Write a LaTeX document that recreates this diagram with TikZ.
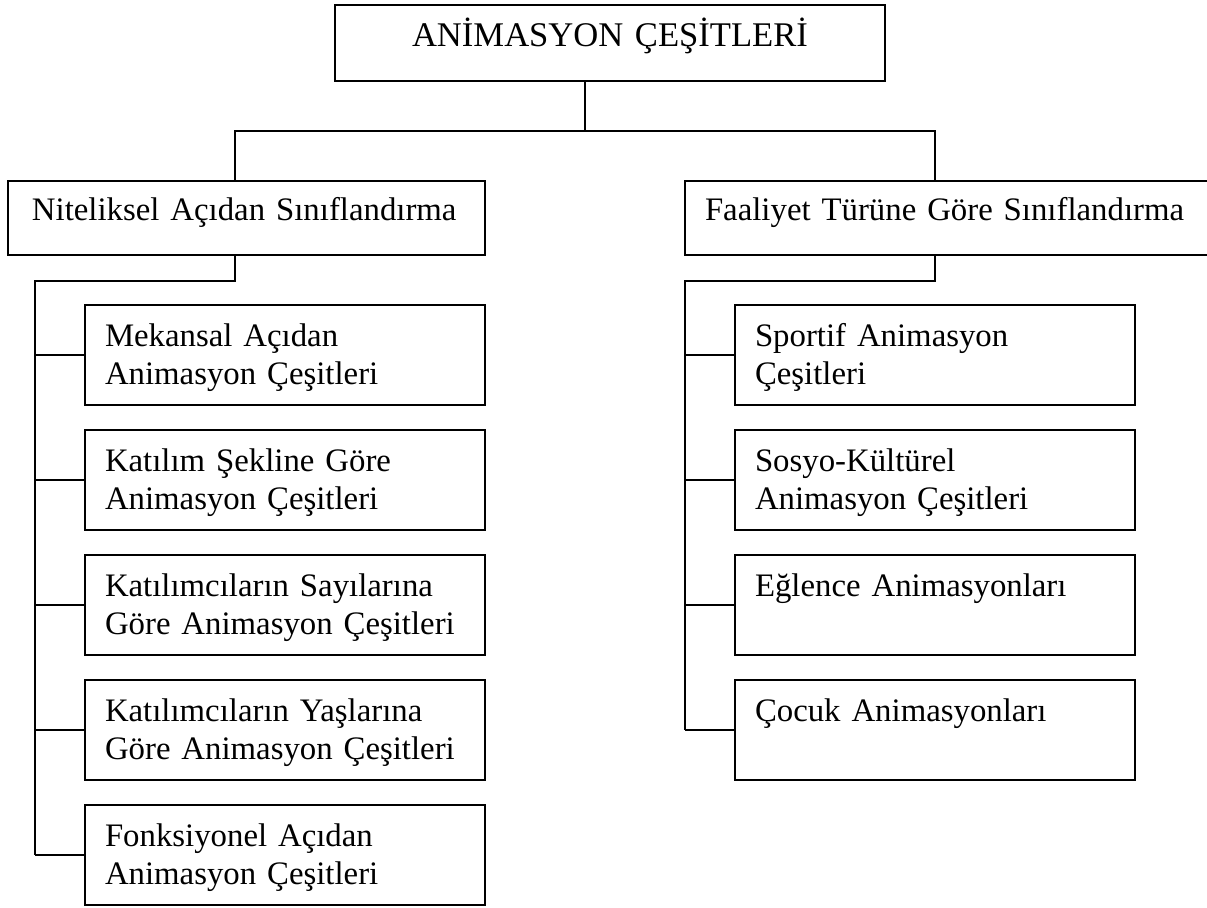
\documentclass[tikz,border=0pt]{standalone}
\usepackage{fontspec}
\setmainfont{Liberation Serif}
\usepackage{tikz}

\tikzset{
  kutu/.style={draw, line width=1pt, outer sep=0pt, inner ysep=0pt, anchor=north west,
    align=left, font=\fontsize{16.4}{19}\selectfont},
  altkutu/.style={kutu, inner xsep=10pt, text width=185pt, text height=21pt, text depth=29pt},
  baglanti/.style={line width=1pt}
}

\begin{document}
\begin{tikzpicture}[x=0.5pt,y=-0.5pt]
			\useasboundingbox (0,0) rectangle (1207,908);
			% ust kutu
			\node[kutu, align=center, inner xsep=0pt, text width=275pt, text height=21pt, text depth=17pt,
				font=\fontsize{17.3}{20}\selectfont] (ust) at (335,5) {AN\.IMASYON ÇEŞ\.ITLER\.I};
			% ikinci seviye
			\node[kutu, inner xsep=12pt, text width=214.5pt, text height=20pt, text depth=17pt] (nit) at (8,181) {Niteliksel Açıdan Sınıflandırma};
			\node[kutu, inner xsep=10pt, text width=250pt, text height=20pt, text depth=17pt] (faa) at (685,181) {Faaliyet Türüne Göre Sınıflandırma};
			% sol alt kutular
			\node[altkutu, text width=180pt] (sol1) at (85,305) {Mekansal Açıdan\\Animasyon Çeşitleri};
			\node[altkutu, text width=180pt] (sol2) at (85,430) {Katılım Şekline Göre\\Animasyon Çeşitleri};
			\node[altkutu, text width=180pt] (sol3) at (85,555) {Katılımcıların Sayılarına\\Göre Animasyon Çeşitleri};
			\node[altkutu, text width=180pt] (sol4) at (85,680) {Katılımcıların Yaşlarına\\Göre Animasyon Çeşitleri};
			\node[altkutu, text width=180pt] (sol5) at (85,805) {Fonksiyonel Açıdan\\Animasyon Çeşitleri};
			% sag alt kutular
			\node[altkutu, text width=180pt] (sag1) at (735,305) {Sportif Animasyon\\Çeşitleri};
			\node[altkutu, text width=180pt] (sag2) at (735,430) {Sosyo-Kültürel\\Animasyon Çeşitleri};
			\node[altkutu, text width=180pt] (sag3) at (735,555) {Eğlence Animasyonları};
			\node[altkutu, text width=180pt] (sag4) at (735,680) {Çocuk Animasyonları};
			% baglantilar
			\coordinate (orta) at (585,131);
			\coordinate (nitx) at (235,131);
			\coordinate (faax) at (935,131);
			\coordinate (soldal) at (35,281);
			\coordinate (sagdal) at (685,281);
			\draw[baglanti] (ust.south -| orta) -- (orta);
			\draw[baglanti] (nit.north -| nitx) -- (nitx) -- (faax) -- (faa.north -| faax);
			\draw[baglanti] (nit.south -| nitx) |- (soldal) -- (soldal |- sol5.west);
			\draw[baglanti] (faa.south -| faax) |- (sagdal) -- (sagdal |- sag4.west);
			\foreach \i in {1,...,5}
				\draw[baglanti] (soldal |- sol\i.west) -- (sol\i.west);
			\foreach \i in {1,...,4}
				\draw[baglanti] (sagdal |- sag\i.west) -- (sag\i.west);
		\end{tikzpicture}
\end{document}
